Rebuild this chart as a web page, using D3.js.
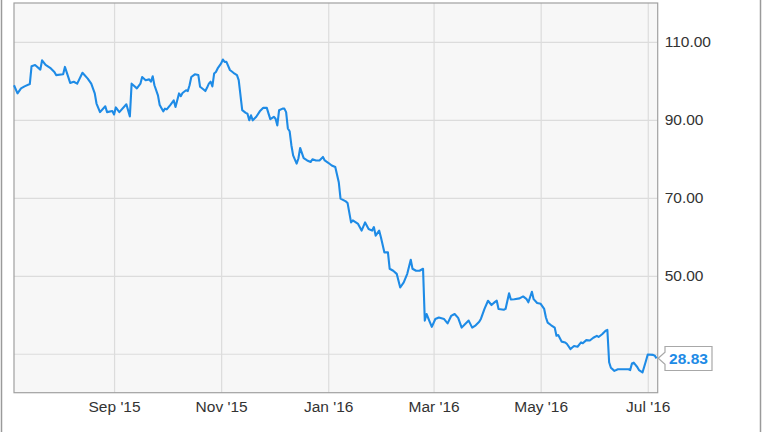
<!DOCTYPE html>
<html>
<head>
<meta charset="utf-8">
<script src="https://cdn.jsdelivr.net/npm/d3@7"></script>
<style>
  html, body { margin: 0; padding: 0; background: #ffffff; }
  svg { display: block; }
  text { font-family: "Liberation Sans", Arial, sans-serif; }
</style>
</head>
<body>
<svg id="chart" width="764" height="432"></svg>
<script>
const dates = [
  "2015-07-06","2015-07-08","2015-07-10","2015-07-12","2015-07-15","2015-07-16","2015-07-18","2015-07-21","2015-07-22","2015-07-24",
  "2015-07-27","2015-07-29","2015-07-30","2015-08-03","2015-08-04","2015-08-07","2015-08-09","2015-08-11","2015-08-14","2015-08-17",
  "2015-08-19","2015-08-21","2015-08-22","2015-08-24","2015-08-27","2015-08-28","2015-08-31","2015-09-01","2015-09-02","2015-09-04",
  "2015-09-08","2015-09-10","2015-09-11","2015-09-12","2015-09-14","2015-09-16","2015-09-17","2015-09-19","2015-09-21","2015-09-22",
  "2015-09-23","2015-09-24","2015-09-26","2015-09-27","2015-09-29","2015-09-30","2015-10-01","2015-10-03","2015-10-05","2015-10-06",
  "2015-10-08","2015-10-09","2015-10-10","2015-10-12","2015-10-13","2015-10-14","2015-10-15","2015-10-17","2015-10-19","2015-10-20",
  "2015-10-22","2015-10-23","2015-10-24","2015-10-25","2015-10-26","2015-10-27","2015-10-28","2015-10-29","2015-10-30","2015-11-01",
  "2015-11-02","2015-11-03","2015-11-04","2015-11-06","2015-11-08","2015-11-10","2015-11-11","2015-11-13","2015-11-15","2015-11-16",
  "2015-11-17","2015-11-18","2015-11-19","2015-11-21","2015-11-23","2015-11-25","2015-11-27","2015-11-28","2015-11-29","2015-12-01",
  "2015-12-02","2015-12-03","2015-12-04","2015-12-06","2015-12-07","2015-12-08","2015-12-09","2015-12-10","2015-12-11","2015-12-12",
  "2015-12-14","2015-12-15","2015-12-16","2015-12-18","2015-12-20","2015-12-22","2015-12-23","2015-12-25","2015-12-27","2015-12-29",
  "2015-12-30","2016-01-01","2016-01-03","2016-01-05","2016-01-07","2016-01-08","2016-01-11","2016-01-12","2016-01-14","2016-01-15",
  "2016-01-18","2016-01-20","2016-01-22","2016-01-24","2016-01-26","2016-01-27","2016-01-28","2016-01-30","2016-01-31","2016-02-02",
  "2016-02-04","2016-02-05","2016-02-07","2016-02-09","2016-02-11","2016-02-13","2016-02-15","2016-02-17","2016-02-18","2016-02-20",
  "2016-02-22","2016-02-24","2016-02-25","2016-02-26","2016-02-28","2016-02-29","2016-03-02","2016-03-04","2016-03-07","2016-03-09",
  "2016-03-11","2016-03-13","2016-03-15","2016-03-17","2016-03-19","2016-03-21","2016-03-23","2016-03-25","2016-03-27","2016-03-28",
  "2016-03-30","2016-04-01","2016-04-03","2016-04-05","2016-04-06","2016-04-07","2016-04-10","2016-04-11","2016-04-13","2016-04-14",
  "2016-04-16","2016-04-19","2016-04-21","2016-04-23","2016-04-24","2016-04-26","2016-04-27","2016-04-29","2016-05-01","2016-05-03",
  "2016-05-04","2016-05-05","2016-05-07","2016-05-09","2016-05-10","2016-05-11","2016-05-13","2016-05-15","2016-05-16","2016-05-18",
  "2016-05-20","2016-05-22","2016-05-24","2016-05-25","2016-05-27","2016-05-29","2016-05-31","2016-06-02","2016-06-03","2016-06-05",
  "2016-06-07","2016-06-08","2016-06-09","2016-06-10","2016-06-12","2016-06-14","2016-06-17","2016-06-20","2016-06-21","2016-06-22",
  "2016-06-23","2016-06-25","2016-06-26","2016-06-28","2016-06-30","2016-07-01","2016-07-04","2016-07-05","2016-07-06"
];
const prices = [
  98.9,96.8,98.1,98.6,99.2,103.8,104.1,102.9,105.3,104.1,
  103.2,102.3,101.5,101.7,103.6,99.5,99.8,99.3,102.1,100.6,
  99.3,96.8,94.2,92.0,93.5,92.0,92.3,91.4,93.2,92.0,
  94.0,90.9,99.3,98.9,98.1,99.3,101.0,100.2,100.4,99.8,
  101.2,98.9,96.3,93.8,92.2,92.9,92.7,93.8,95.0,93.3,
  96.8,96.1,96.9,97.6,97.4,98.9,101.0,101.7,101.5,98.5,
  97.8,97.4,98.3,99.3,99.8,98.6,101.9,102.3,103.2,104.5,
  105.5,104.9,104.9,102.8,102.1,101.5,100.2,92.5,91.8,91.6,
  89.9,91.2,89.9,90.8,92.2,93.1,93.1,91.6,90.2,90.8,
  90.3,88.6,92.5,92.9,92.9,92.0,87.8,87.1,83.5,80.9,
  78.8,80.1,82.8,80.2,79.6,79.2,79.9,79.6,79.6,80.5,
  79.6,79.0,78.3,77.9,74.0,69.8,69.1,68.7,63.7,64.2,
  63.3,61.6,63.7,62.0,61.6,62.5,60.3,61.6,59.9,56.0,
  56.0,51.8,51.3,50.5,47.0,48.3,50.5,54.1,51.8,51.3,
  51.3,51.8,38.5,40.2,38.0,36.9,38.9,39.3,38.9,37.8,
  39.7,40.2,39.2,36.7,37.6,38.5,36.7,37.3,38.2,39.0,
  41.5,43.6,42.5,43.3,43.6,41.5,41.3,41.5,45.5,43.9,
  44.0,44.2,44.7,44.0,43.2,45.9,44.0,43.0,42.8,41.5,
  39.3,38.0,37.3,36.7,34.6,34.8,33.1,32.9,32.5,31.2,
  32.0,31.8,32.9,32.7,33.5,33.4,34.1,34.6,34.3,35.0,
  35.9,36.1,27.8,26.4,25.6,26.0,26.0,26.0,25.8,27.5,
  27.7,26.6,25.8,25.2,28.2,29.8,29.7,29.5,28.83
];
const yGridValues = [30, 50, 70, 90, 110];
const yLabelValues = [50, 70, 90, 110]; // the 30.00 label is covered by the last-value callout
const xTickDates = ["2015-09-01","2015-11-01","2016-01-01","2016-03-01","2016-05-01","2016-07-01"];
const xTickLabels = ["Sep '15","Nov '15","Jan '16","Mar '16","May '16","Jul '16"];
const lastLabel = "28.83";

const parse = d3.utcParse("%Y-%m-%d");
const data = dates.map((d, i) => ({ date: parse(d), value: prices[i] }));

const L = 14, T = 3, R = 657.7, B = 392.7;
const svg = d3.select("#chart");

const x = d3.scaleUtc()
  .domain([Date.UTC(2015, 6, 6), Date.UTC(2016, 6, 6, 16)])
  .range([L, R]);
const y = d3.scaleLinear().domain([20, 120]).range([B, T]);

// outer frame lines
svg.append("line").attr("x1", 1.5).attr("x2", 1.5).attr("y1", 0).attr("y2", 432)
  .attr("stroke", "#9a9a9a").attr("stroke-width", 1.5);
svg.append("line").attr("x1", 760.5).attr("x2", 760.5).attr("y1", 0).attr("y2", 432)
  .attr("stroke", "#9a9a9a").attr("stroke-width", 1.5);

// plot background
svg.append("rect").attr("x", L).attr("y", T).attr("width", R - L).attr("height", B - T)
  .attr("fill", "#f7f7f7");

// grid
const gridY = svg.append("g").attr("transform", `translate(${L},0)`)
  .call(d3.axisRight(y).tickValues(yGridValues).tickSize(R - L).tickFormat(""));
gridY.select(".domain").remove();
gridY.selectAll("line").attr("stroke", "#dcdcdc").attr("stroke-width", 1.2);

const xTicks = xTickDates.map(parse);
const gridX = svg.append("g").attr("transform", `translate(0,${T})`)
  .call(d3.axisBottom(x).tickValues(xTicks).tickSize(B - T).tickFormat(""));
gridX.select(".domain").remove();
gridX.selectAll("line").attr("stroke", "#dcdcdc").attr("stroke-width", 1.2);

// plot border
svg.append("rect").attr("x", L).attr("y", T).attr("width", R - L).attr("height", B - T)
  .attr("fill", "none").attr("stroke", "#a0a0a0").attr("stroke-width", 1.2);

// line
const line = d3.line().x(d => x(d.date)).y(d => y(d.value));
svg.append("path").datum(data).attr("d", line)
  .attr("fill", "none").attr("stroke", "#1e8be6").attr("stroke-width", 2.1)
  .attr("stroke-linejoin", "round");

// y axis labels
const yAxis = svg.append("g").attr("transform", `translate(${R},0)`)
  .call(d3.axisRight(y).tickValues(yLabelValues).tickSize(0).tickPadding(7).tickFormat(d3.format(".2f")));
yAxis.select(".domain").remove();
yAxis.selectAll("text").attr("font-size", "15.5px").attr("fill", "#333").attr("font-family", "'Liberation Sans', Arial, sans-serif");

// x axis labels
const xAxis = svg.append("g").attr("transform", `translate(0,${B})`)
  .call(d3.axisBottom(x).tickValues(xTicks).tickSize(0).tickPadding(8.5).tickFormat((d, i) => xTickLabels[i]));
xAxis.select(".domain").remove();
xAxis.selectAll("text").attr("font-size", "15.5px").attr("fill", "#333").attr("font-family", "'Liberation Sans', Arial, sans-serif");

// last value callout
const last = data[data.length - 1];
const ly = y(last.value);
const bx0 = 665, bx1 = 712, by0 = ly - 11.8, by1 = ly + 12.2;
svg.append("path")
  .attr("d", `M${R + 0.5},${ly} L${bx0},${ly - 6} L${bx0},${by0} L${bx1},${by0} L${bx1},${by1} L${bx0},${by1} L${bx0},${ly + 6} Z`)
  .attr("fill", "#ffffff").attr("stroke", "#a8a8a8").attr("stroke-width", 1.2);
svg.append("text").attr("x", (bx0 + bx1) / 2).attr("y", ly).attr("dy", "0.36em")
  .attr("text-anchor", "middle").attr("font-size", "15.5px").attr("font-weight", "bold")
  .attr("fill", "#1e8be6").text(lastLabel);
</script>
</body>
</html>
